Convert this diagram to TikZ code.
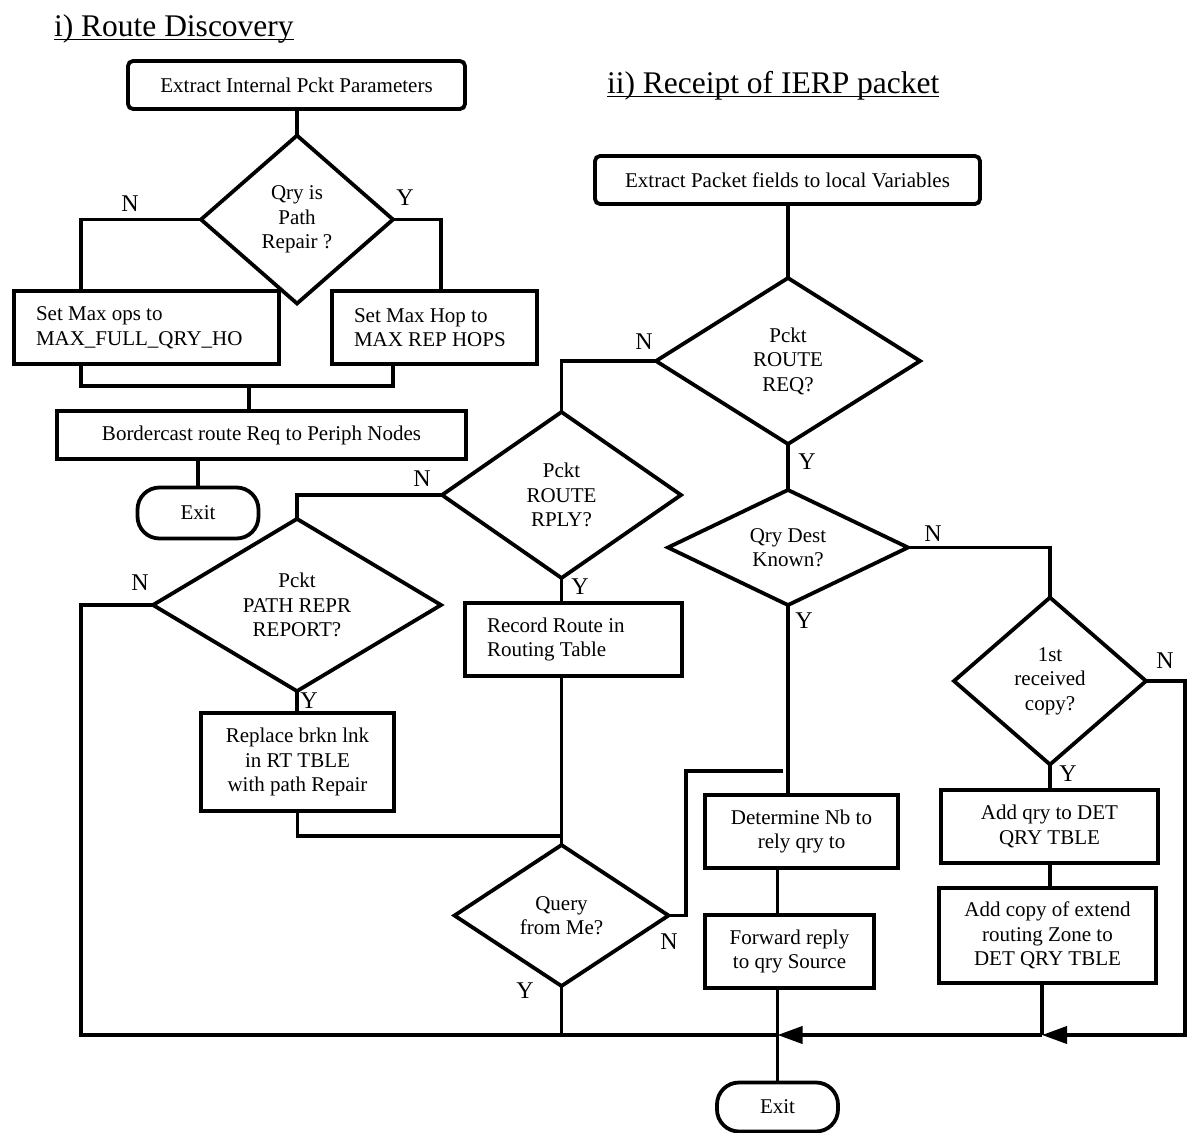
\documentclass[tikz,border=0pt]{standalone}
\usepackage{fontspec}
\setmainfont{Liberation Serif}
\usetikzlibrary{shapes.geometric,arrows.meta}

\begin{document}
\begin{tikzpicture}[x=1pt,y=-1pt,
  every node/.style={font=\fontsize{21}{24.5}\selectfont, inner sep=0pt, outer sep=0pt},
  flow/.style={line width=3.8pt},
  proc/.style={draw, line width=3.8pt, rectangle, align=center},
  startbox/.style={proc, rounded corners=5pt},
  term/.style={proc, rounded corners=22pt},
  dec/.style={draw, line width=3.8pt, diamond, align=center},
  yn/.style={font=\fontsize{24}{24}\selectfont},
  ttl/.style={font=\fontsize{31.5}{32}\selectfont, anchor=base west},
  tip/.style={-{Triangle[length=25pt,width=17pt]}},
]
\useasboundingbox (0,0) rectangle (1187,1133);

% ---------- titles ----------
\node[ttl] (t1) at (54,36) {i) Route Discovery};
\draw[line width=1.8pt] ([yshift=-3.5pt]t1.base west) -- ([yshift=-3.5pt]t1.base east);
\node[ttl] (t2) at (607,93) {ii) Receipt of IERP packet};
\draw[line width=1.8pt] ([yshift=-3.5pt]t2.base west) -- ([yshift=-3.5pt]t2.base east);

% ---------- i) route discovery ----------
\node[startbox, minimum width=337, minimum height=48] (s1) at (296.5,85) {Extract Internal Pckt Parameters};
\node[dec, minimum width=192, minimum height=168] (d1) at (297,219.5) {Qry is\\Path\\Repair ?};
\node[proc, minimum width=265, minimum height=73, text width=221, align=flush left] (maxops) at (146.5,327.5) {Set Max ops to\\MAX\_FULL\_QRY\_HO};
\node[proc, minimum width=205, minimum height=73, text width=161, align=flush left] (maxhop) at (434.5,327.5) {Set Max Hop to\\MAX REP HOPS};
\node[proc, minimum width=409, minimum height=48] (border) at (261.5,435) {Bordercast route Req to Periph Nodes};
\node[term, minimum width=121, minimum height=51] (exit1) at (198,513) {Exit};

\coordinate (lx) at (81,0);
\coordinate (rx) at (441,0);
\coordinate (mx) at (393,0);
\coordinate (m1) at (249,386);

\draw[flow] (s1.south -| d1) -- (d1.north);
\draw[flow] (d1.west) -| (maxops.north -| lx);
\draw[flow] (d1.east) -| (maxhop.north -| rx);
\draw[flow] (maxops.south -| lx) |- (m1) -| (maxhop.south -| mx);
\draw[flow] (m1) -- (border.north -| m1);
\draw[flow] (border.south -| exit1) -- (exit1.north);

\node[yn] (n1) at (130,204) {N};
\node[yn] (y1) at (405,198) {Y};

% ---------- ii) receipt of IERP packet ----------
\node[startbox, minimum width=385, minimum height=48] (s2) at (787.5,180) {Extract Packet fields to local Variables};
\node[dec, minimum width=264, minimum height=166] (d2) at (788,361) {Pckt\\ROUTE\\REQ?};
\node[dec, minimum width=239, minimum height=166] (d3) at (561.5,495) {Pckt\\ROUTE\\RPLY?};
\node[dec, minimum width=240, minimum height=111] (d4) at (788,547.5) {Qry Dest\\Known?};
\node[dec, minimum width=288, minimum height=168] (d7) at (297,605) {Pckt\\PATH REPR\\REPORT?};
\node[dec, minimum width=192, minimum height=167] (d5) at (1050,681) {1st\\received\\copy?};
\node[dec, minimum width=214, minimum height=141] (d6) at (561.5,915.5) {Query\\from Me?};

\node[proc, minimum width=217, minimum height=73, text width=173, align=flush left] (rec) at (573.5,639.5) {Record Route in\\Routing Table};
\node[proc, minimum width=193, minimum height=98] (rep) at (297.5,762) {Replace brkn lnk\\in RT TBLE\\with path Repair};
\node[proc, minimum width=193, minimum height=73] (det) at (801.5,831.5) {Determine Nb to\\rely qry to};
\node[proc, minimum width=169, minimum height=73] (fwd) at (789.5,951.5) {Forward reply\\to qry Source};
\node[proc, minimum width=217, minimum height=73] (addq) at (1049.5,826.5) {Add qry to DET\\QRY TBLE};
\node[proc, minimum width=217, minimum height=95] (addc) at (1047.5,935.5) {Add copy of extend\\routing Zone to\\DET QRY TBLE};
\node[term, minimum width=121, minimum height=49] (exit2) at (777.5,1107) {Exit};

\coordinate (j1) at (777.5,1035);
\coordinate (j2) at (1042,1035);
\coordinate (rr) at (1185,1035);
\coordinate (ll) at (81,1035);
\coordinate (mj) at (561.5,836);
\coordinate (qa) at (686,771);
\coordinate (qb) at (782.5,771);

\draw[flow] (s2.south -| d2) -- (d2.north);
\draw[flow] (d2.west) -| (d3.north);
\draw[flow] (d2.south) -- (d4.north);
\draw[flow] (d4.south) -- (d4.south |- det.north);
\draw[flow] (d4.east) -| (d5.north);
\draw[flow] (d5.south) -- (d5.south |- addq.north);
\draw[flow] (addq.south -| d5) -- (addc.north -| d5);
\draw[flow, tip] (d5.east) -| (rr) -- (j2);
\draw[flow] (addc.south -| j2) -- (j2);
\draw[flow, tip] (j2) -- (j1);
\draw[flow] (det.south -| exit2) -- (fwd.north -| exit2);
\draw[flow] (fwd.south -| exit2) -- (exit2.north);
\draw[flow] (d3.south) -- (d3.south |- rec.north);
\draw[flow] (rec.south -| d3) -- (d6.north);
\draw[flow] (d3.west) -| (d7.north);
\draw[flow] (d7.south) -- (d7.south |- rep.north);
\draw[flow] (rep.south) |- (mj);
\draw[flow] (d7.west) -| (ll) -- (j1);
\draw[flow] (d6.south) -- (d6.south |- ll);
\draw[flow] (d6.east) -| (qa) -- (qb);

\node[yn] (n2) at (644,342) {N};
\node[yn] (y2) at (807,462) {Y};
\node[yn] (n3) at (422,479) {N};
\node[yn] (y3) at (580,587) {Y};
\node[yn] (n4) at (933,534) {N};
\node[yn] (y4) at (804,621) {Y};
\node[yn] (n7) at (140,583) {N};
\node[yn] (y7) at (309,701) {Y};
\node[yn] (n5) at (1165,661) {N};
\node[yn] (y5) at (1068,774) {Y};
\node[yn] (n6) at (669,942) {N};
\node[yn] (y6) at (525,991) {Y};
\end{tikzpicture}
\end{document}
